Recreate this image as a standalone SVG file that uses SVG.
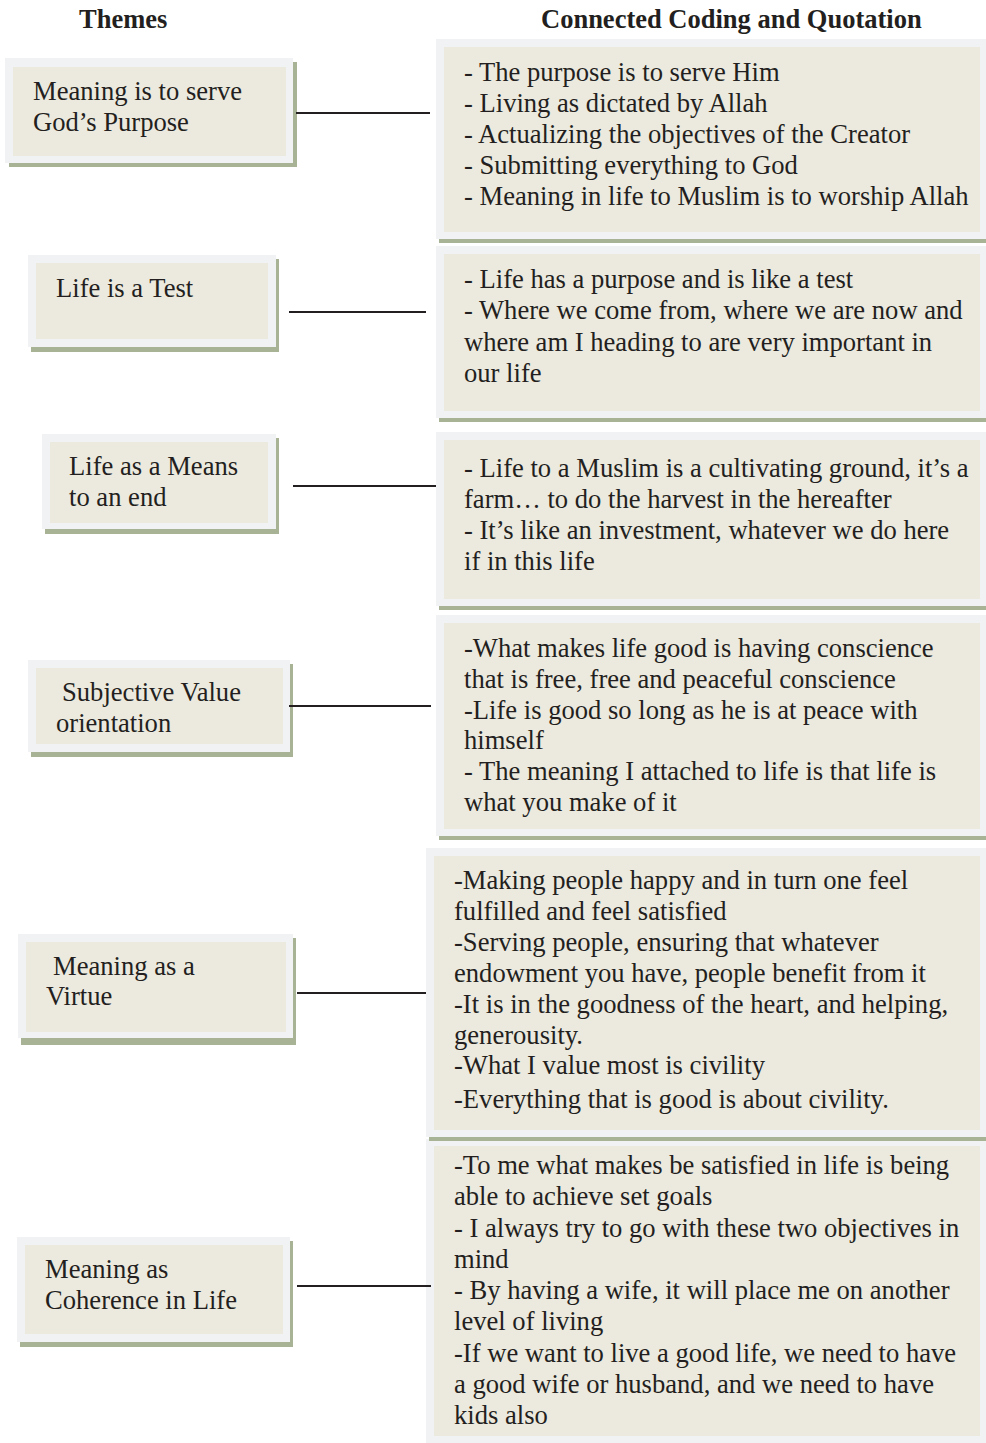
<svg xmlns="http://www.w3.org/2000/svg" width="986" height="1443" viewBox="0 0 986 1443">
<style>
.sh{fill:#a8b396}
.lt{fill:#f1f2f4}
.fl{fill:#ece9df}
.t{font-family:"Liberation Serif","Times New Roman",serif;font-size:26.6px;fill:#231f20}
.h{font-family:"Liberation Serif","Times New Roman",serif;font-size:26.5px;font-weight:bold;fill:#231f20}
.c{stroke:#231f20;stroke-width:2;fill:none}
</style>
<rect width="986" height="1443" fill="#ffffff"/>
<g id="headers">
<text class="h" x="79" y="28">Themes</text>
<text class="h" x="541" y="28">Connected Coding and Quotation</text>
</g>
<g id="theme1">
<rect class="sh" x="9" y="62" width="288" height="105"/>
<rect class="lt" x="5" y="58" width="288" height="105"/>
<rect class="fl" x="13" y="67" width="273" height="89"/>
<text class="t" x="33" y="100">Meaning is to serve</text>
<text class="t" x="33" y="131">God’s Purpose</text>
</g>
<g id="theme2">
<rect class="sh" x="31" y="259" width="248" height="93"/>
<rect class="lt" x="28" y="255" width="248" height="92"/>
<rect class="fl" x="36" y="263" width="232" height="76"/>
<text class="t" x="56" y="297">Life is a Test</text>
</g>
<g id="theme3">
<rect class="sh" x="45" y="438" width="234" height="96"/>
<rect class="lt" x="42" y="434" width="234" height="95"/>
<rect class="fl" x="50" y="442" width="218" height="81"/>
<text class="t" x="69" y="475">Life as a Means</text>
<text class="t" x="69" y="506">to an end</text>
</g>
<g id="theme4">
<rect class="sh" x="31" y="664" width="262" height="93"/>
<rect class="lt" x="28" y="660" width="262" height="92"/>
<rect class="fl" x="36" y="668" width="247" height="76"/>
<text class="t" x="62" y="701">Subjective Value</text>
<text class="t" x="56" y="732">orientation</text>
</g>
<g id="theme5">
<rect class="sh" x="21" y="938" width="275" height="107"/>
<rect class="lt" x="18" y="934" width="275" height="104"/>
<rect class="fl" x="26" y="942" width="260" height="90"/>
<text class="t" x="53" y="975">Meaning as a</text>
<text class="t" x="46" y="1005">Virtue</text>
</g>
<g id="theme6">
<rect class="sh" x="20" y="1241" width="273" height="106"/>
<rect class="lt" x="17" y="1237" width="273" height="105"/>
<rect class="fl" x="25" y="1245" width="258" height="89"/>
<text class="t" x="45" y="1278">Meaning as</text>
<text class="t" x="45" y="1309">Coherence in Life</text>
</g>
<g id="quote6">
<rect class="lt" x="426" y="1139" width="570" height="310"/>
<rect class="fl" x="434" y="1146" width="546" height="290"/>
<text class="t" x="454" y="1174">-To me what makes be satisfied in life is being</text>
<text class="t" x="454" y="1205">able to achieve set goals</text>
<text class="t" x="454" y="1237">- I always try to go with these two objectives in</text>
<text class="t" x="454" y="1268">mind</text>
<text class="t" x="454" y="1299">- By having a wife, it will place me on another</text>
<text class="t" x="454" y="1330">level of living</text>
<text class="t" x="454" y="1362">-If we want to live a good life, we need to have</text>
<text class="t" x="454" y="1393">a good wife or husband, and we need to have</text>
<text class="t" x="454" y="1424">kids also</text>
</g>
<g id="quote5">
<rect class="sh" x="429" y="852" width="570" height="289"/>
<rect class="lt" x="426" y="848" width="570" height="289"/>
<rect class="fl" x="434" y="856" width="546" height="274"/>
<text class="t" x="454" y="889">-Making people happy and in turn one feel</text>
<text class="t" x="454" y="920">fulfilled and feel satisfied</text>
<text class="t" x="454" y="951">-Serving people, ensuring that whatever</text>
<text class="t" x="454" y="982">endowment you have, people benefit from it</text>
<text class="t" x="454" y="1013">-It is in the goodness of the heart, and helping,</text>
<text class="t" x="454" y="1044">generousity.</text>
<text class="t" x="454" y="1074">-What I value most is civility</text>
<text class="t" x="454" y="1108">-Everything that is good is about civility.</text>
</g>
<g id="quote4">
<rect class="sh" x="439" y="619" width="560" height="221"/>
<rect class="lt" x="436" y="615" width="560" height="221"/>
<rect class="fl" x="444" y="623" width="536" height="206"/>
<text class="t" x="464" y="657">-What makes life good is having conscience</text>
<text class="t" x="464" y="688">that is free, free and peaceful conscience</text>
<text class="t" x="464" y="719">-Life is good so long as he is at peace with</text>
<text class="t" x="464" y="749">himself</text>
<text class="t" x="464" y="780">- The meaning I attached to life is that life is</text>
<text class="t" x="464" y="811">what you make of it</text>
</g>
<g id="quote3">
<rect class="sh" x="439" y="436" width="560" height="174"/>
<rect class="lt" x="436" y="432" width="560" height="174"/>
<rect class="fl" x="444" y="440" width="536" height="159"/>
<text class="t" x="464" y="477">- Life to a Muslim is a cultivating ground, it’s a</text>
<text class="t" x="464" y="508">farm… to do the harvest in the hereafter</text>
<text class="t" x="464" y="539">- It’s like an investment, whatever we do here</text>
<text class="t" x="464" y="570">if in this life</text>
</g>
<g id="quote2">
<rect class="sh" x="439" y="250" width="560" height="172"/>
<rect class="lt" x="436" y="246" width="560" height="172"/>
<rect class="fl" x="444" y="254" width="536" height="157"/>
<text class="t" x="464" y="288">- Life has a purpose and is like a test</text>
<text class="t" x="464" y="319">- Where we come from, where we are now and</text>
<text class="t" x="464" y="351">where am I heading to are very important in</text>
<text class="t" x="464" y="382">our life</text>
</g>
<g id="quote1">
<rect class="sh" x="439" y="43" width="560" height="200"/>
<rect class="lt" x="436" y="39" width="560" height="200"/>
<rect class="fl" x="444" y="47" width="536" height="185"/>
<text class="t" x="464" y="81">- The purpose is to serve Him</text>
<text class="t" x="464" y="112">- Living as dictated by Allah</text>
<text class="t" x="464" y="143">- Actualizing the objectives of the Creator</text>
<text class="t" x="464" y="174">- Submitting everything to God</text>
<text class="t" x="464" y="205">- Meaning in life to Muslim is to worship Allah</text>
</g>
<g id="connectors">
<line class="c" x1="296" y1="113" x2="430" y2="113"/>
<line class="c" x1="289" y1="312" x2="426" y2="312"/>
<line class="c" x1="293" y1="486" x2="436" y2="486"/>
<line class="c" x1="289" y1="706" x2="431" y2="706"/>
<line class="c" x1="297" y1="993" x2="426" y2="993"/>
<line class="c" x1="297" y1="1286" x2="431" y2="1286"/>
</g>
</svg>
